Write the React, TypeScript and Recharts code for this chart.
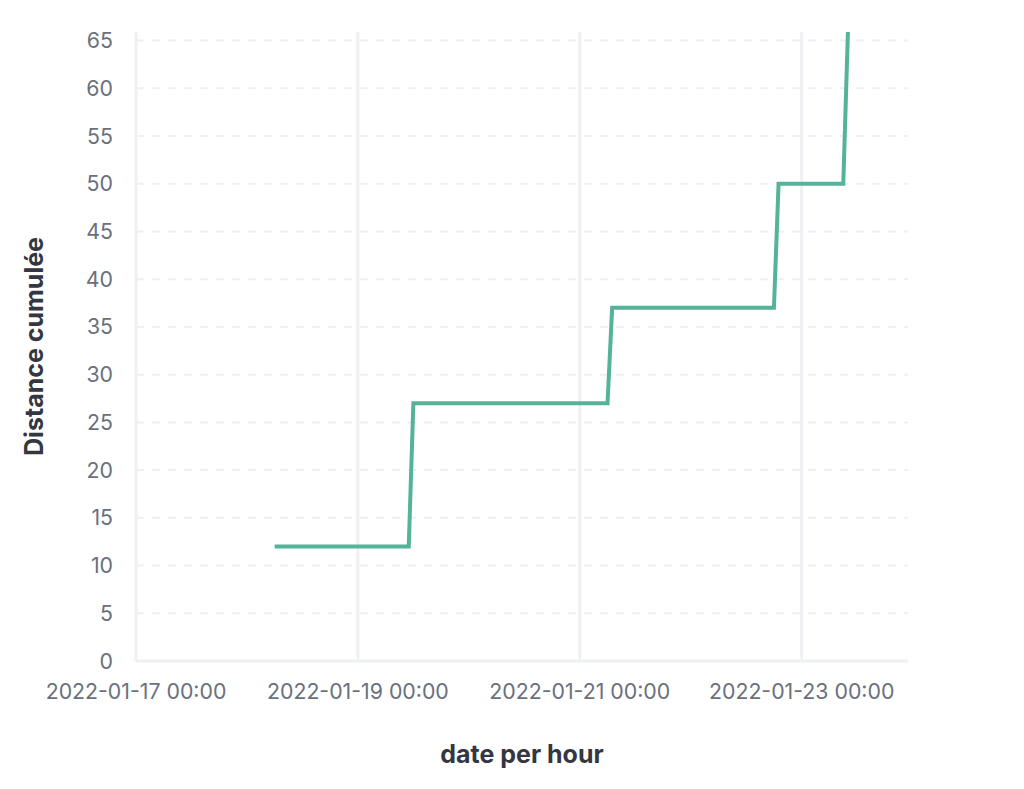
import React from "react";
import { LineChart, Line, XAxis, YAxis, ReferenceLine } from "recharts";

// Cumulative distance, hourly buckets (only the points where the curve changes slope)
const timeLabels = [
  "2022-01-18 06:00",
  "2022-01-19 11:00",
  "2022-01-19 12:00",
  "2022-01-21 06:00",
  "2022-01-21 07:00",
  "2022-01-22 18:00",
  "2022-01-22 19:00",
  "2022-01-23 09:00",
  "2022-01-23 10:00",
];
const distanceValues = [12, 12, 27, 27, 37, 37, 50, 50, 65.9];

const xTickLabels = [
  "2022-01-17 00:00",
  "2022-01-19 00:00",
  "2022-01-21 00:00",
  "2022-01-23 00:00",
];
const xDomainLabels = ["2022-01-17 00:00", "2022-01-23 23:00"];
const yTicks = [0, 5, 10, 15, 20, 25, 30, 35, 40, 45, 50, 55, 60, 65];
const yDomain = [0, 65.9];

const xTitle = "date per hour";
const yTitle = "Distance cumulée";

const toMs = (s: string) => Date.parse(s.replace(" ", "T") + ":00Z");
const pad = (n: number) => String(n).padStart(2, "0");
const fmt = (ms: number) => {
  const d = new Date(ms);
  return `${d.getUTCFullYear()}-${pad(d.getUTCMonth() + 1)}-${pad(d.getUTCDate())} ${pad(
    d.getUTCHours()
  )}:${pad(d.getUTCMinutes())}`;
};

const data = timeLabels.map((t, i) => ({ t: toMs(t), v: distanceValues[i] }));
const xTicks = xTickLabels.map(toMs);
const xDomain = xDomainLabels.map(toMs);

const FONT = "Inter, 'Noto Sans', sans-serif";
const tickStyle = { fill: "#69707D", fontSize: 21.3, fontFamily: FONT };
const lineColor = "#EEF0F4";

export default function App() {
  return (
    <div style={{ position: "absolute", left: 0, top: 0, width: 1024, height: 789, background: "#fff" }}>
      <LineChart
        width={1024}
        height={789}
        data={data}
        margin={{ top: 32, right: 116, bottom: 68, left: 0 }}
        style={{ fontFamily: FONT }}
      >
        {yTicks.slice(1).map((y) => (
          <ReferenceLine
            key={"h" + y}
            y={y}
            stroke={lineColor}
            strokeWidth={2}
            strokeDasharray="8 8"
          />
        ))}
        {xTicks.slice(1).map((x) => (
          <ReferenceLine key={"v" + x} x={x} stroke={lineColor} strokeWidth={3} />
        ))}
        <XAxis
          dataKey="t"
          type="number"
          domain={xDomain}
          ticks={xTicks}
          tickFormatter={fmt}
          allowDataOverflow
          height={60}
          tickSize={0}
          tickMargin={23}
          tickLine={false}
          axisLine={{ stroke: lineColor, strokeWidth: 3 }}
          tick={tickStyle}
          interval={0}
        />
        <YAxis
          type="number"
          domain={yDomain}
          ticks={yTicks}
          allowDataOverflow
          width={136}
          tickSize={0}
          tickMargin={23}
          tickLine={false}
          axisLine={{ stroke: lineColor, strokeWidth: 3 }}
          tick={tickStyle}
          interval={0}
        />
        <Line
          type="linear"
          dataKey="v"
          stroke="#54B399"
          strokeWidth={4}
          dot={false}
          activeDot={false}
          isAnimationActive={false}
        />
      </LineChart>
      <svg
        width={1024}
        height={789}
        style={{ position: "absolute", left: 0, top: 0, pointerEvents: "none" }}
      >
        <text
          x={522}
          y={763}
          textAnchor="middle"
          fontFamily={FONT}
          fontWeight={700}
          fontSize={25}
          fill="#343741"
        >
          {xTitle}
        </text>
        <text
          x={0}
          y={0}
          transform="translate(42.5, 346.5) rotate(-90)"
          textAnchor="middle"
          fontFamily={FONT}
          fontWeight={700}
          fontSize={25}
          fill="#343741"
        >
          {yTitle}
        </text>
      </svg>
    </div>
  );
}
